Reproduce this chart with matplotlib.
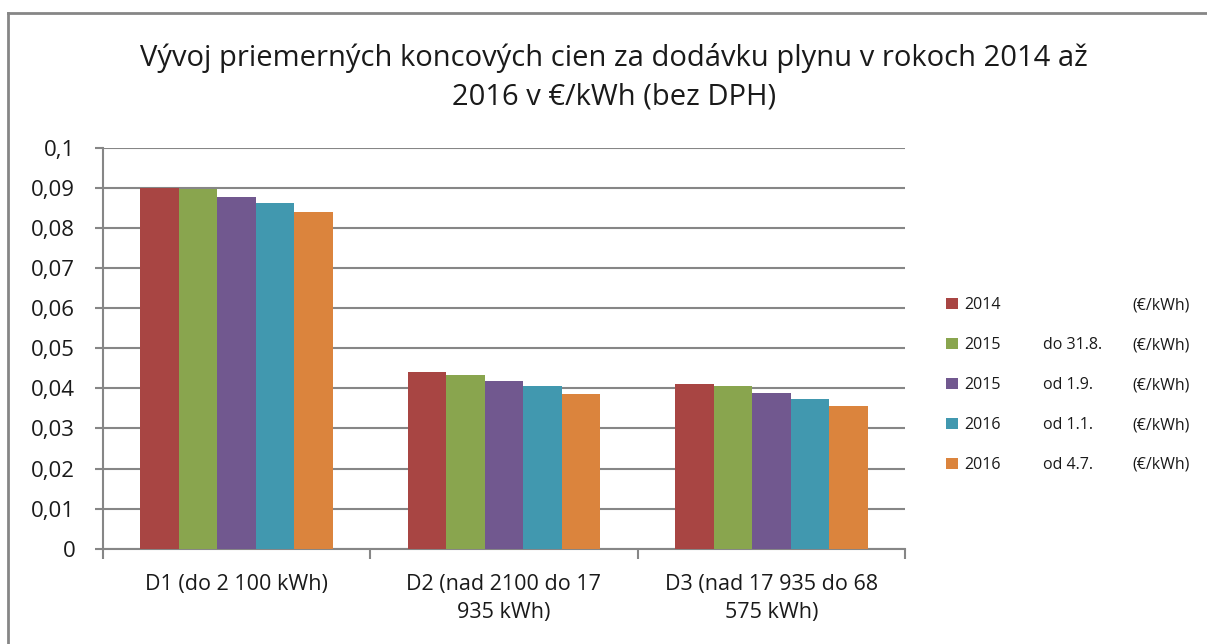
import numpy as np
import matplotlib
matplotlib.use("Agg")
from matplotlib import pyplot as plt
from matplotlib.lines import Line2D
from matplotlib.ticker import FuncFormatter

plt.rcParams['font.family'] = ['Open Sans', 'DejaVu Sans']

categories = ["D1 (do 2 100 kWh)",
              "D2 (nad 2100 do 17\n935 kWh)",
              "D3 (nad 17 935 do 68\n575 kWh)"]
years = ["2014", "2015", "2015", "2016", "2016"]
periods = ["", "do 31.8.", "od 1.9.", "od 1.1.", "od 4.7."]
unit = "(€/kWh)"

v2014 = [0.0900, 0.0441, 0.0411]
v2015a = [0.0898, 0.0434, 0.0405]
v2015b = [0.0878, 0.0418, 0.0388]
v2016a = [0.0862, 0.0405, 0.0374]
v2016b = [0.0841, 0.0385, 0.0355]
series = [v2014, v2015a, v2015b, v2016a, v2016b]

colors = ["#A84543", "#89A54E", "#71588F", "#4198AF", "#DB843D"]
grid_c = "#868686"
txt_c = "#1a1a1a"

fig = plt.figure(figsize=(12.07, 6.44), dpi=100)
ax = fig.add_axes([0.0853, 0.148, 0.6645, 0.6225])

x = np.arange(len(categories))
w = 0.72 / len(series)
for i, vals in enumerate(series):
    ax.bar(x - 0.36 + w * (i + 0.5), vals, width=w, color=colors[i],
           label=years[i], zorder=3)

ax.set_xlim(-0.5, 2.5)
ax.set_ylim(0, 0.1)
ax.set_yticks(np.arange(0, 0.1001, 0.01))
ax.yaxis.set_major_formatter(FuncFormatter(
    lambda v, p: "0" if abs(v) < 1e-9 else ("%.2f" % v).rstrip("0").replace(".", ",")))
ax.grid(axis="y", color=grid_c, linewidth=1.5, zorder=0)
for s in ["top", "right"]:
    ax.spines[s].set_visible(False)
for s in ["left", "bottom"]:
    ax.spines[s].set_color(grid_c)
    ax.spines[s].set_linewidth(1.5)

ax.set_xticks(x)
ax.set_xticklabels(categories, linespacing=1.45)
ax.set_xticks([-0.5, 0.5, 1.5, 2.5], minor=True)
ax.tick_params(axis="x", which="major", length=0, pad=18, labelsize=15.5,
               labelcolor=txt_c)
ax.tick_params(axis="x", which="minor", length=7, width=1.5, color=grid_c)
ax.tick_params(axis="y", length=6, width=1.5, color=grid_c, labelsize=16,
               labelcolor=txt_c, pad=14)

fig.text(0.509, 0.880,
         "Vývoj priemerných koncových cien za dodávku plynu v rokoch 2014 až\n2016 v €/kWh (bez DPH)",
         ha="center", va="center", fontsize=21, color=txt_c, linespacing=1.4)

leg = fig.legend(loc="upper left", bbox_to_anchor=(0.777, 0.551), frameon=False,
                 fontsize=11.5, handlelength=0.75, handleheight=0.75,
                 handletextpad=0.4, labelspacing=1.5, borderpad=0)
for t in leg.get_texts():
    t.set_color(txt_c)

fig.canvas.draw()
for i, t in enumerate(leg.get_texts()):
    bb = t.get_window_extent()
    yc = (bb.y0 + bb.y1) / 2 / fig.bbox.height
    if periods[i]:
        fig.text(1043 / 1207, yc, periods[i], ha="left", va="center",
                 fontsize=11.5, color=txt_c)
    fig.text(1190 / 1207, yc, unit, ha="right", va="center",
             fontsize=11.5, color=txt_c)

# outer chart border (top and left edges)
fig.add_artist(Line2D([8 / 1207, 1.0], [1 - 13 / 644, 1 - 13 / 644],
                      transform=fig.transFigure, color=grid_c, linewidth=2))
fig.add_artist(Line2D([8 / 1207, 8 / 1207], [0, 1 - 13 / 644],
                      transform=fig.transFigure, color=grid_c, linewidth=2))

fig.savefig("out.png", dpi=100)
